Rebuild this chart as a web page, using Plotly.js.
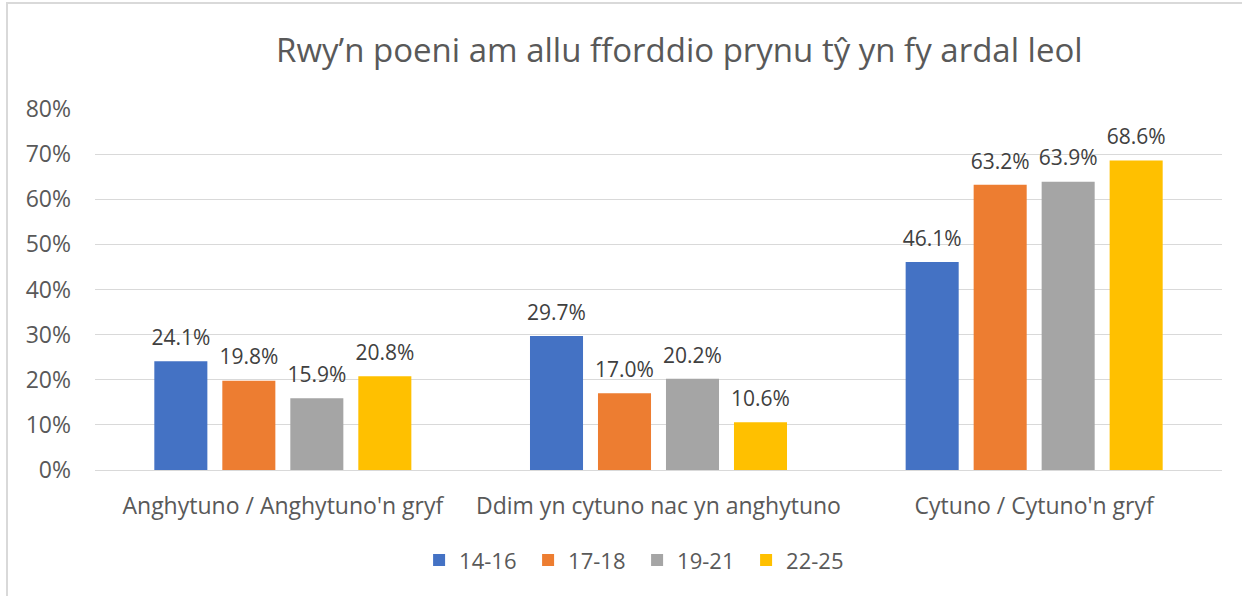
<!DOCTYPE html>
<html><head><meta charset="utf-8">
<script src="https://cdn.plot.ly/plotly-3.0.1.min.js"></script>
<style>
html,body{margin:0;padding:0;background:#fff;}
#frame{position:absolute;left:6px;top:2px;width:1242px;height:600px;border:2px solid #d9d9d9;box-sizing:border-box;}
#chart{position:absolute;left:0;top:0;width:1242px;height:596px;}
</style></head>
<body><div id="frame"></div><div id="chart"></div>
<script>
const categories = ["Anghytuno / Anghytuno'n gryf", "Ddim yn cytuno nac yn anghytuno", "Cytuno / Cytuno'n gryf"];
const seriesNames = ["14-16", "17-18", "19-21", "22-25"];
const v1416 = [24.1, 29.7, 46.1];
const v1718 = [19.8, 17.0, 63.2];
const v1921 = [15.9, 20.2, 63.9];
const v2225 = [20.8, 10.6, 68.6];
const colors = ["#4472c4", "#ed7d31", "#a5a5a5", "#ffc000"];
const allValues = [v1416, v1718, v1921, v2225];
const font = "'Open Sans', sans-serif";
const barGap = 0.276;
const traces = allValues.map((vals, i) => ({
  type: 'bar', name: seriesNames[i], x: categories, y: vals.map(v => v / 100),
  marker: {color: colors[i]}, offsetgroup: String(i), hoverinfo: 'skip'
}));
const labelTraces = allValues.map((vals, i) => ({
  type: 'scatter', mode: 'markers+text', showlegend: false, x: categories, y: vals.map(v => v / 100),
  offsetgroup: String(i), marker: {size: 16, opacity: 0},
  text: vals.map(v => v.toFixed(1) + '%'), textposition: 'top center', cliponaxis: false,
  textfont: {family: font, size: 21, color: '#404040'}, hoverinfo: 'skip'
}));
const layout = {
  width: 1242, height: 596, paper_bgcolor: 'rgba(0,0,0,0)', plot_bgcolor: 'rgba(0,0,0,0)',
  margin: {l: 95, r: 20, t: 109, b: 126},
  title: {text: 'Rwy’n poeni am allu fforddio prynu tŷ yn fy ardal leol', x: 0.547, xanchor: 'center', y: 0.915, yanchor: 'middle',
    font: {family: font, size: 33, color: '#595959'}},
  barmode: 'group', bargap: barGap, bargroupgap: 0.22,
  scattermode: 'group', scattergap: barGap,
  xaxis: {tickfont: {family: font, size: 23, color: '#595959'}, showline: true, linecolor: '#d9d9d9', linewidth: 1, ticks: '', ticklabelstandoff: 15},
  yaxis: {range: [0, 0.8], dtick: 0.1, tickformat: '.0%', tickfont: {family: font, size: 23, color: '#595959'},
    gridcolor: '#d9d9d9', zeroline: false, ticks: '', ticklabelstandoff: 23},
  legend: {orientation: 'h', x: 0.481, xanchor: 'center', y: -0.25, yanchor: 'middle', entrywidth: 64,
    font: {family: font, size: 22, color: '#595959'}, traceorder: 'normal'},
  showlegend: true
};
Plotly.newPlot('chart', traces.concat(labelTraces), layout, {displayModeBar: false});
</script></body></html>
